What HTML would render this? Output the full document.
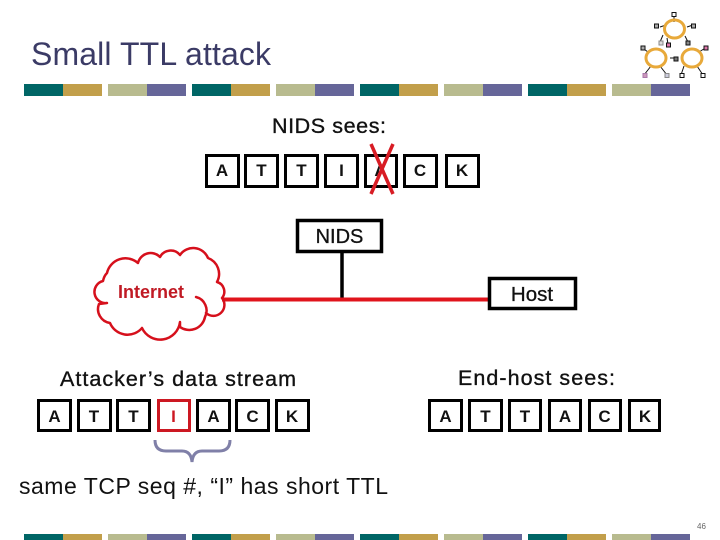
<!DOCTYPE html>
<html><head><meta charset="utf-8"><style>
html,body{margin:0;padding:0;background:#fff}
svg{display:block}
text{font-family:"Liberation Sans",Arial,sans-serif}
.b{font-size:17px;font-weight:bold;text-anchor:middle;fill:#111}
.l{font-size:21.500px;fill:#111;stroke:#111;stroke-width:.35}
</style></head><body>
<svg width="720" height="540" viewBox="0 0 720 540" xmlns="http://www.w3.org/2000/svg">
<!-- bars -->
<g>
<rect x="24" y="84" width="39" height="12" fill="#006666"/><rect x="63" y="84" width="39" height="12" fill="#c29f4b"/><rect x="108" y="84" width="39" height="12" fill="#b8bb8f"/><rect x="147" y="84" width="39" height="12" fill="#666699"/>
<rect x="192" y="84" width="39" height="12" fill="#006666"/><rect x="231" y="84" width="39" height="12" fill="#c29f4b"/><rect x="276" y="84" width="39" height="12" fill="#b8bb8f"/><rect x="315" y="84" width="39" height="12" fill="#666699"/>
<rect x="360" y="84" width="39" height="12" fill="#006666"/><rect x="399" y="84" width="39" height="12" fill="#c29f4b"/><rect x="444" y="84" width="39" height="12" fill="#b8bb8f"/><rect x="483" y="84" width="39" height="12" fill="#666699"/>
<rect x="528" y="84" width="39" height="12" fill="#006666"/><rect x="567" y="84" width="39" height="12" fill="#c29f4b"/><rect x="612" y="84" width="39" height="12" fill="#b8bb8f"/><rect x="651" y="84" width="39" height="12" fill="#666699"/>
</g>
<g>
<rect x="24" y="534" width="39" height="6" fill="#006666"/><rect x="63" y="534" width="39" height="6" fill="#c29f4b"/><rect x="108" y="534" width="39" height="6" fill="#b8bb8f"/><rect x="147" y="534" width="39" height="6" fill="#666699"/>
<rect x="192" y="534" width="39" height="6" fill="#006666"/><rect x="231" y="534" width="39" height="6" fill="#c29f4b"/><rect x="276" y="534" width="39" height="6" fill="#b8bb8f"/><rect x="315" y="534" width="39" height="6" fill="#666699"/>
<rect x="360" y="534" width="39" height="6" fill="#006666"/><rect x="399" y="534" width="39" height="6" fill="#c29f4b"/><rect x="444" y="534" width="39" height="6" fill="#b8bb8f"/><rect x="483" y="534" width="39" height="6" fill="#666699"/>
<rect x="528" y="534" width="39" height="6" fill="#006666"/><rect x="567" y="534" width="39" height="6" fill="#c29f4b"/><rect x="612" y="534" width="39" height="6" fill="#b8bb8f"/><rect x="651" y="534" width="39" height="6" fill="#666699"/>
</g>
<!-- logo -->
<g stroke="#111" stroke-width="1" fill="none">
<path d="M674 17V22M660 27L666 25M693 25L687 27M663 35L660 42M667 38L668 44M685 36L688 42M641 47L648 52M670 58H677M644 75L651 66M667 75L660 66M681 75L684 66M703 75L697 66M707 47L699 52"/>
</g>
<g fill="none" stroke="#e8a93a" stroke-width="3">
<ellipse cx="674.500" cy="29" rx="10" ry="9"/><ellipse cx="656" cy="58" rx="10" ry="9"/><ellipse cx="692" cy="58" rx="10" ry="9"/>
</g>
<g stroke="#111" stroke-width="1">
<rect x="672" y="12.500" width="4" height="4" fill="#fff"/>
<rect x="654.500" y="24" width="4" height="4" fill="#aaa"/>
<rect x="691.500" y="24" width="4" height="4" fill="#aaa"/>
<rect x="659" y="41" width="4" height="4" fill="#ddd" stroke="#888"/>
<rect x="666.500" y="43" width="4" height="4" fill="#d7a"/>
<rect x="686" y="41" width="4" height="4" fill="#888"/>
<rect x="641" y="46" width="4" height="4" fill="#aaa"/>
<rect x="674" y="57" width="4" height="4" fill="#777"/>
<rect x="704" y="46" width="4" height="4" fill="#d7a"/>
<rect x="643" y="73.500" width="4" height="4" fill="#c9b" stroke="#a7a"/>
<rect x="665" y="73.500" width="4" height="4" fill="#ccd" stroke="#888"/>
<rect x="680" y="73.500" width="4" height="4" fill="#fff"/>
<rect x="701" y="73.500" width="4" height="4" fill="#fff"/>
</g>
<!-- title -->
<text x="31" y="65" font-size="32" fill="#3b3b66" textLength="240" lengthAdjust="spacing">Small TTL attack</text>
<text class="l" x="272" y="133" textLength="114">NIDS sees:</text>
<!-- top boxes -->
<g fill="#fff" stroke="#000" stroke-width="3">
<rect x="206.500" y="155.500" width="32" height="31"/><rect x="245.500" y="155.500" width="32" height="31"/><rect x="285.500" y="155.500" width="32" height="31"/><rect x="325.500" y="155.500" width="32" height="31"/><rect x="365.500" y="155.500" width="31" height="31"/><rect x="404.500" y="155.500" width="32" height="31"/><rect x="446.500" y="155.500" width="32" height="31"/>
</g>
<text class="b" x="222" y="176">A</text><text class="b" x="261.500" y="176">T</text><text class="b" x="301.500" y="176">T</text><text class="b" x="341.500" y="176">I</text><text class="b" x="380.500" y="176">A</text><text class="b" x="420" y="176">C</text><text class="b" x="462" y="176">K</text>
<path d="M371 144L393 194M393 144L371 194" stroke="#d81c24" stroke-width="3.500" fill="none"/>
<!-- network -->
<path d="M342 253V300" stroke="#000" stroke-width="3.500"/>
<path d="M222 299.500H490" stroke="#e0141c" stroke-width="4"/>
<rect x="297.500" y="220.500" width="84" height="31" fill="#fff" stroke="#000" stroke-width="3.500"/>
<text x="339.500" y="243" font-size="20" text-anchor="middle" fill="#111" stroke="#111" stroke-width=".3">NIDS</text>
<rect x="489.500" y="278.500" width="86" height="30" fill="#fff" stroke="#000" stroke-width="3.500"/>
<text x="532" y="301" font-size="20.500" text-anchor="middle" fill="#111" stroke="#111" stroke-width=".3">Host</text>
<!-- cloud -->
<path d="M206 313 A11 11 0 0 0 222 298 A10 10 0 0 0 217 282 A17 17 0 0 0 208 258 A16 16 0 0 0 180 255 A12 12 0 0 0 160 257 A13 13 0 0 0 138 263 A19 19 0 0 0 107 273 Q104 276 103 281 A11.200 11.200 0 0 0 107 303 L99 304 A14 14 0 0 0 110 323 A19 19 0 0 0 142 328 A20 20 0 0 0 180 322 L180 327 A16 16 0 0 0 205 317 A14 14 0 0 0 196 297" fill="none" stroke="#d6101c" stroke-width="2.500" stroke-linejoin="round" stroke-linecap="round"/>
<text x="118" y="298" font-size="18" font-weight="bold" fill="#c01a24" textLength="66">Internet</text>
<!-- left stream -->
<text class="l" x="60" y="386" textLength="236">Attacker’s data stream</text>
<g fill="#fff" stroke="#000" stroke-width="3">
<rect x="38.500" y="400.500" width="32" height="30"/><rect x="78.500" y="400.500" width="32" height="30"/><rect x="117.500" y="400.500" width="32" height="30"/><rect x="197.500" y="400.500" width="32" height="30"/><rect x="236.500" y="400.500" width="32" height="30"/><rect x="276.500" y="400.500" width="32" height="30"/>
</g>
<rect x="158.500" y="400.500" width="31" height="30" fill="#fff" stroke="#cc1822" stroke-width="3"/>
<text class="b" x="54.500" y="422">A</text><text class="b" x="94" y="422">T</text><text class="b" x="133.500" y="422">T</text><text class="b" x="173.500" y="422" style="fill:#cc1822">I</text><text class="b" x="213.500" y="422">A</text><text class="b" x="252.500" y="422">C</text><text class="b" x="292" y="422">K</text>
<path d="M155 440 Q155 451 166 451 H182 Q191 451 192 462 Q193 451 202 451 H219 Q230 451 230 440" fill="none" stroke="#8080a8" stroke-width="3"/>
<!-- right stream -->
<text class="l" x="458" y="385" textLength="157">End-host sees:</text>
<g fill="#fff" stroke="#000" stroke-width="3">
<rect x="429.500" y="400.500" width="32" height="30"/><rect x="469.500" y="400.500" width="32" height="30"/><rect x="509.500" y="400.500" width="31" height="30"/><rect x="549.500" y="400.500" width="31" height="30"/><rect x="589.500" y="400.500" width="31" height="30"/><rect x="629.500" y="400.500" width="30" height="30"/>
</g>
<text class="b" x="445.500" y="422">A</text><text class="b" x="485.500" y="422">T</text><text class="b" x="525" y="422">T</text><text class="b" x="565" y="422">A</text><text class="b" x="604.500" y="422">C</text><text class="b" x="645" y="422">K</text>
<!-- caption -->
<text x="19" y="494" font-size="23" fill="#111" textLength="369">same TCP seq #, “I” has short TTL</text>
<text x="697" y="529" font-size="8" fill="#666">46</text>
</svg>
</body></html>
